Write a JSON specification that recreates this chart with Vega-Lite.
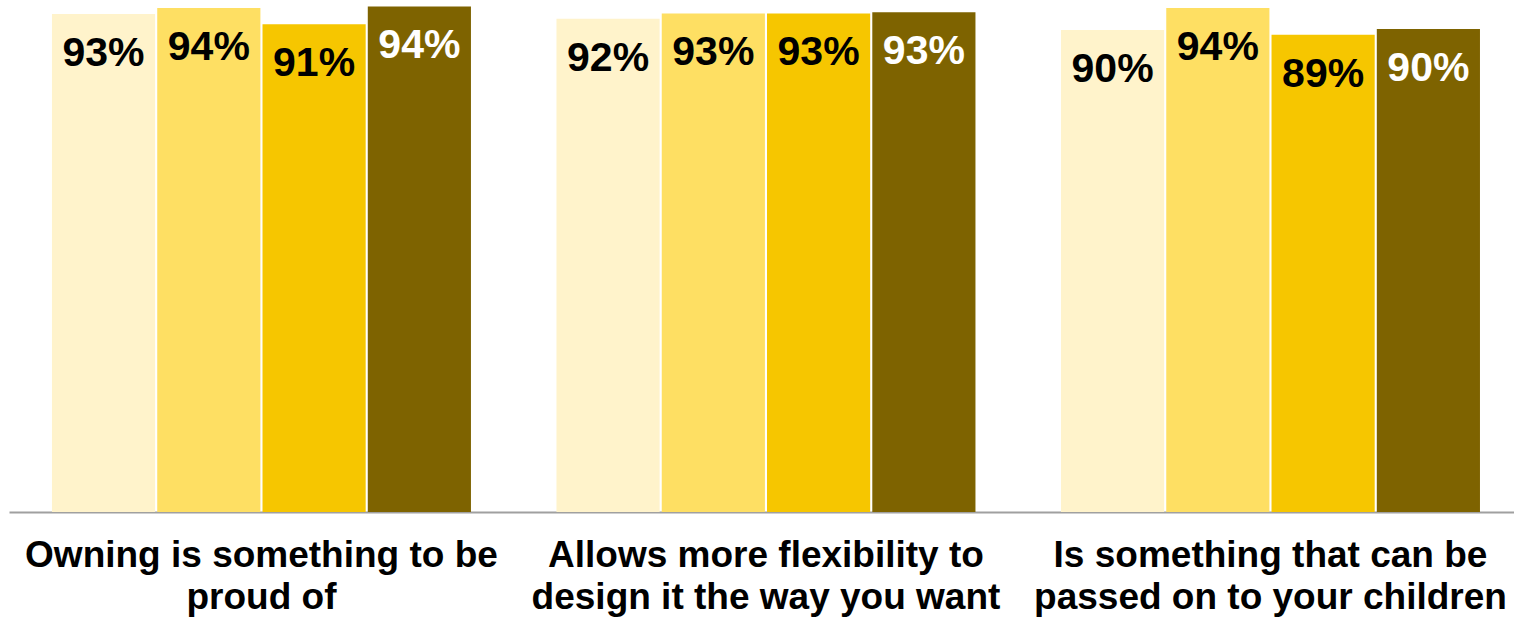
{
  "$schema": "https://vega.github.io/schema/vega-lite/v6.json",
  "width": 1505,
  "height": 512,
  "autosize": {"type": "none"},
  "padding": {"left": 9, "top": 0, "right": 0, "bottom": 108},
  "background": "white",
  "config": {"view": {"stroke": null}, "font": "Liberation Sans"},
  "data": {
    "values": [
      {"category": "Owning is something to be proud of", "series": "S1", "value": 92.9, "label": "93%"},
      {"category": "Owning is something to be proud of", "series": "S2", "value": 94.0, "label": "94%"},
      {"category": "Owning is something to be proud of", "series": "S3", "value": 91.0, "label": "91%"},
      {"category": "Owning is something to be proud of", "series": "S4", "value": 94.3, "label": "94%"},
      {"category": "Allows more flexibility to design it the way you want", "series": "S1", "value": 92.0, "label": "92%"},
      {"category": "Allows more flexibility to design it the way you want", "series": "S2", "value": 93.0, "label": "93%"},
      {"category": "Allows more flexibility to design it the way you want", "series": "S3", "value": 93.0, "label": "93%"},
      {"category": "Allows more flexibility to design it the way you want", "series": "S4", "value": 93.2, "label": "93%"},
      {"category": "Is something that can be passed on to your children", "series": "S1", "value": 89.9, "label": "90%"},
      {"category": "Is something that can be passed on to your children", "series": "S2", "value": 94.0, "label": "94%"},
      {"category": "Is something that can be passed on to your children", "series": "S3", "value": 89.0, "label": "89%"},
      {"category": "Is something that can be passed on to your children", "series": "S4", "value": 90.1, "label": "90%"}
    ]
  },
  "encoding": {
    "x": {
      "field": "category",
      "type": "nominal",
      "sort": null,
      "scale": {"paddingInner": 0.1695, "paddingOuter": 0.0763, "align": 0.558},
      "axis": {
        "title": null,
        "orient": "bottom",
        "domainColor": "#a0a0a0",
        "domainWidth": 2,
        "ticks": false,
        "labelAngle": 0,
        "labelFont": "Liberation Sans",
        "labelFontSize": 37,
        "labelFontWeight": "bold",
        "labelColor": "#000000",
        "labelLimit": 800,
        "labelPadding": 25,
        "labelLineHeight": 42,
        "labelOverlap": false,
        "labelBaseline": "top",
        "labelExpr": "datum.value == 'Owning is something to be proud of' ? ['Owning is something to be', 'proud of'] : datum.value == 'Allows more flexibility to design it the way you want' ? ['Allows more flexibility to', 'design it the way you want'] : ['Is something that can be', 'passed on to your children']"
      }
    },
    "xOffset": {"field": "series", "type": "nominal", "scale": {"paddingInner": 0.02}},
    "y": {
      "field": "value",
      "type": "quantitative",
      "scale": {"domain": [0, 95.5], "nice": false, "zero": true},
      "axis": null
    }
  },
  "layer": [
    {
      "mark": {"type": "bar"},
      "encoding": {
        "color": {
          "field": "series",
          "type": "nominal",
          "scale": {"domain": ["S1", "S2", "S3", "S4"], "range": ["#FFF3CB", "#FEDF63", "#F6C600", "#7E6300"]},
          "legend": null
        }
      }
    },
    {
      "mark": {"type": "text", "baseline": "alphabetic", "align": "center", "dy": 52, "fontSize": 41, "fontWeight": "bold", "font": "Liberation Sans"},
      "encoding": {
        "text": {"field": "label"},
        "color": {"condition": {"test": "datum.series == 'S4'", "value": "#ffffff"}, "value": "#000000"}
      }
    }
  ]
}
